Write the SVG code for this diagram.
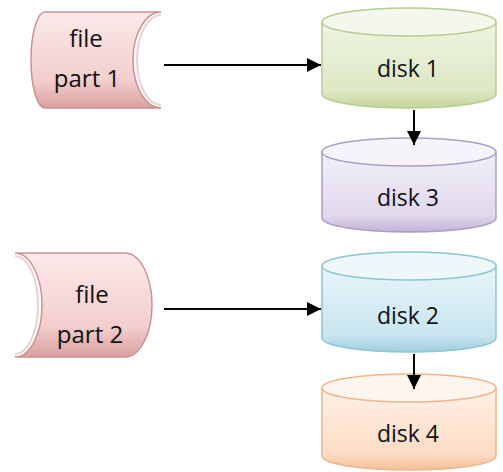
<svg xmlns="http://www.w3.org/2000/svg" width="503" height="472" viewBox="0 0 503 472">
<defs>
<style>
.lbl{font-family:"Open Sans","Liberation Sans",sans-serif;font-size:23px;fill:#111;text-anchor:middle}
.flbl{font-family:"Open Sans","Liberation Sans",sans-serif;font-size:24px;fill:#111;text-anchor:middle}
.conn{stroke:#000;stroke-width:2;fill:none}
</style>
<linearGradient id="gPink" x1="0" y1="0" x2="0" y2="1"><stop offset="0" stop-color="#fbe9e9"/><stop offset="0.7" stop-color="#f3cfcf"/><stop offset="1" stop-color="#d9a0a0"/></linearGradient>
<linearGradient id="gGreen" x1="0" y1="0" x2="0" y2="1"><stop offset="0" stop-color="#eef4e2"/><stop offset="0.8" stop-color="#dde8c4"/><stop offset="1" stop-color="#c3d59b"/></linearGradient>
<linearGradient id="gPurple" x1="0" y1="0" x2="0" y2="1"><stop offset="0" stop-color="#f2eff7"/><stop offset="0.8" stop-color="#e0d8ec"/><stop offset="1" stop-color="#c0b2d6"/></linearGradient>
<linearGradient id="gBlue" x1="0" y1="0" x2="0" y2="1"><stop offset="0" stop-color="#e9f5f9"/><stop offset="0.8" stop-color="#c8e6ef"/><stop offset="1" stop-color="#9fcedd"/></linearGradient>
<linearGradient id="gOrange" x1="0" y1="0" x2="0" y2="1"><stop offset="0" stop-color="#fef1e6"/><stop offset="0.8" stop-color="#fcdcc4"/><stop offset="1" stop-color="#f5bf98"/></linearGradient>
<marker id="ah" viewBox="0 0 10 10" refX="10" refY="5" markerWidth="7" markerHeight="7" orient="auto" markerUnits="strokeWidth"><path d="M0,0 L10,5 L0,10 Z" fill="#000"/></marker>
</defs>

<g id="file1">
<path d="M45,12 L161,12 A28,48 0 0 0 161,108 L45,108 A14,48 0 0 1 45,12 Z" fill="url(#gPink)" stroke="#c99393" stroke-width="1.5"/>
<path d="M161,15 A24,45 0 0 0 161,105" fill="none" stroke="#ecd0d0" stroke-width="2"/>
<text class="flbl" x="86" y="47">file</text>
<text class="flbl" x="87" y="87">part 1</text>
</g>

<g id="file2">
<path d="M15,253 L125,253 A27,52 0 0 1 125,357 L15,357 A27,52 0 0 0 15,253 Z" fill="url(#gPink)" stroke="#c99393" stroke-width="1.5"/>
<path d="M15,256 A23,49 0 0 1 15,354" fill="none" stroke="#ecd0d0" stroke-width="2"/>
<text class="flbl" x="92" y="303">file</text>
<text class="flbl" x="90" y="343">part 2</text>
</g>

<g id="disk1">
<path d="M322,22 L322,94 A87,14 0 0 0 496,94 L496,22 Z" fill="url(#gGreen)" stroke="#b7cc90" stroke-width="1.5"/>
<ellipse cx="409" cy="22" rx="87" ry="14" fill="#f4f8ec" stroke="#b7cc90" stroke-width="1.5"/>
<text class="lbl" x="408" y="77">disk 1</text>
</g>

<g id="disk3">
<path d="M322,152 L322,218 A87,14 0 0 0 496,218 L496,152 Z" fill="url(#gPurple)" stroke="#ab9ec6" stroke-width="1.5"/>
<ellipse cx="409" cy="152" rx="87" ry="14" fill="#f6f4fa" stroke="#ab9ec6" stroke-width="1.5"/>
<text class="lbl" x="408" y="206">disk 3</text>
</g>

<g id="disk2">
<path d="M322,266 L322,338 A87,14 0 0 0 496,338 L496,266 Z" fill="url(#gBlue)" stroke="#8ec3d4" stroke-width="1.5"/>
<ellipse cx="409" cy="266" rx="87" ry="14" fill="#eef8fb" stroke="#8ec3d4" stroke-width="1.5"/>
<text class="lbl" x="408" y="324">disk 2</text>
</g>

<g id="disk4">
<path d="M322,388 L322,456 A87,14 0 0 0 496,456 L496,388 Z" fill="url(#gOrange)" stroke="#eeb48c" stroke-width="1.5"/>
<ellipse cx="409" cy="388" rx="87" ry="14" fill="#fff5ed" stroke="#eeb48c" stroke-width="1.5"/>
<text class="lbl" x="408" y="442">disk 4</text>
</g>

<g id="connectors">
<line class="conn" x1="164" y1="65" x2="321" y2="65" marker-end="url(#ah)"/>
<line class="conn" x1="164" y1="309" x2="321" y2="309" marker-end="url(#ah)"/>
<line class="conn" x1="414" y1="110" x2="414" y2="145" marker-end="url(#ah)"/>
<line class="conn" x1="414" y1="354" x2="414" y2="389" marker-end="url(#ah)"/>
</g>
</svg>
